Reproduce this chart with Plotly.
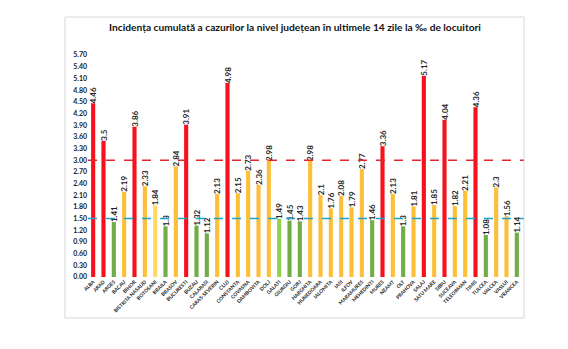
import plotly.graph_objects as go

counties = ["ALBA", "ARAD", "ARGES", "BACAU", "BIHOR", "BISTRITA NASAUD", "BOTOSANI",
            "BRAILA", "BRASOV", "BUCURESTI", "BUZAU", "CALARASI", "CARAS-SEVERIN", "CLUJ",
            "CONSTANTA", "COVASNA", "DAMBOVITA", "DOLJ", "GALATI", "GIURGIU", "GORJ",
            "HARGHITA", "HUNEDOARA", "IALOMITA", "IASI", "ILFOV", "MARAMURES", "MEHEDINTI",
            "MURES", "NEAMT", "OLT", "PRAHOVA", "SALAJ", "SATU MARE", "SIBIU", "SUCEAVA",
            "TELEORMAN", "TIMIS", "TULCEA", "VALCEA", "VASLUI", "VRANCEA"]
values = [4.46, 3.5, 1.41, 2.19, 3.86, 2.33, 1.84, 1.3, 2.84, 3.91, 1.32, 1.12, 2.13, 4.98,
          2.15, 2.73, 2.36, 2.98, 1.49, 1.45, 1.43, 2.98, 2.1, 1.76, 2.08, 1.79, 2.77, 1.46,
          3.36, 2.13, 1.3, 1.81, 5.17, 1.85, 4.04, 1.82, 2.21, 4.36, 1.08, 2.3, 1.56, 1.14]
thresholds = [3.0, 1.5]
ytick_vals = [round(i * 0.3, 2) for i in range(20)]

RED, ORANGE, LIGHTY, GREEN, LGREEN = "#F5121E", "#FBBF3A", "#FFD966", "#70AD47", "#92D050"
colors = []
for c, v in zip(counties, values):
    if c == "BOTOSANI":
        colors.append(LIGHTY)
    elif c == "GALATI":
        colors.append(LGREEN)
    elif v > 3.0:
        colors.append(RED)
    elif v >= 1.5:
        colors.append(ORANGE)
    else:
        colors.append(GREEN)

FONT = "Lato"
fig = go.Figure()
fig.add_trace(go.Bar(
    x=counties, y=values, width=0.4,
    marker=dict(color=colors, line=dict(width=0)),
    text=[str(v) for v in values], textposition="outside", textangle=-90,
    textfont=dict(family=FONT, size=8, color="#222", weight="bold"),
    constraintext="none", cliponaxis=False,
))

# threshold lines
fig.add_shape(type="line", xref="paper", yref="y", x0=0, x1=1.004, y0=thresholds[0], y1=thresholds[0],
              line=dict(color="#E0282E", width=1.5, dash="dash"))
fig.add_shape(type="line", xref="paper", yref="y", x0=0, x1=1.004, y0=thresholds[1], y1=thresholds[1],
              line=dict(color="#1FA3C9", width=1.5, dash="dash"))

# chart border
fig.add_shape(type="rect", xref="paper", yref="paper", x0=-0.053, x1=1.0046, y0=-0.185, y1=1.171,
              line=dict(color="#D9D9D9", width=1), layer="below")

fig.update_layout(
    width=568, height=349,
    margin=dict(l=88, r=46, t=55, b=72),
    paper_bgcolor="white", plot_bgcolor="white",
    showlegend=False,
    bargap=0.6,
    title=dict(text="Incidența cumulată a cazurilor la nivel județean în ultimele 14 zile la ‰ de locuitori",
               x=0.477, xref="paper", xanchor="center", y=0.92, yanchor="middle",
               font=dict(family=FONT, size=10.2, color="#111", weight="bold")),
    xaxis=dict(tickangle=-45, tickfont=dict(family=FONT, size=5, color="#222", weight="bold"),
               showgrid=False, showline=False, ticks="", range=[-0.5, len(counties) - 0.5]),
    yaxis=dict(range=[0, 5.7], tickvals=ytick_vals, tickformat=".2f",
               tickfont=dict(family=FONT, size=7, color="#222", weight="bold"),
               showgrid=False, showline=False, zeroline=False, ticks=""),
)

fig.write_html("out.html")
